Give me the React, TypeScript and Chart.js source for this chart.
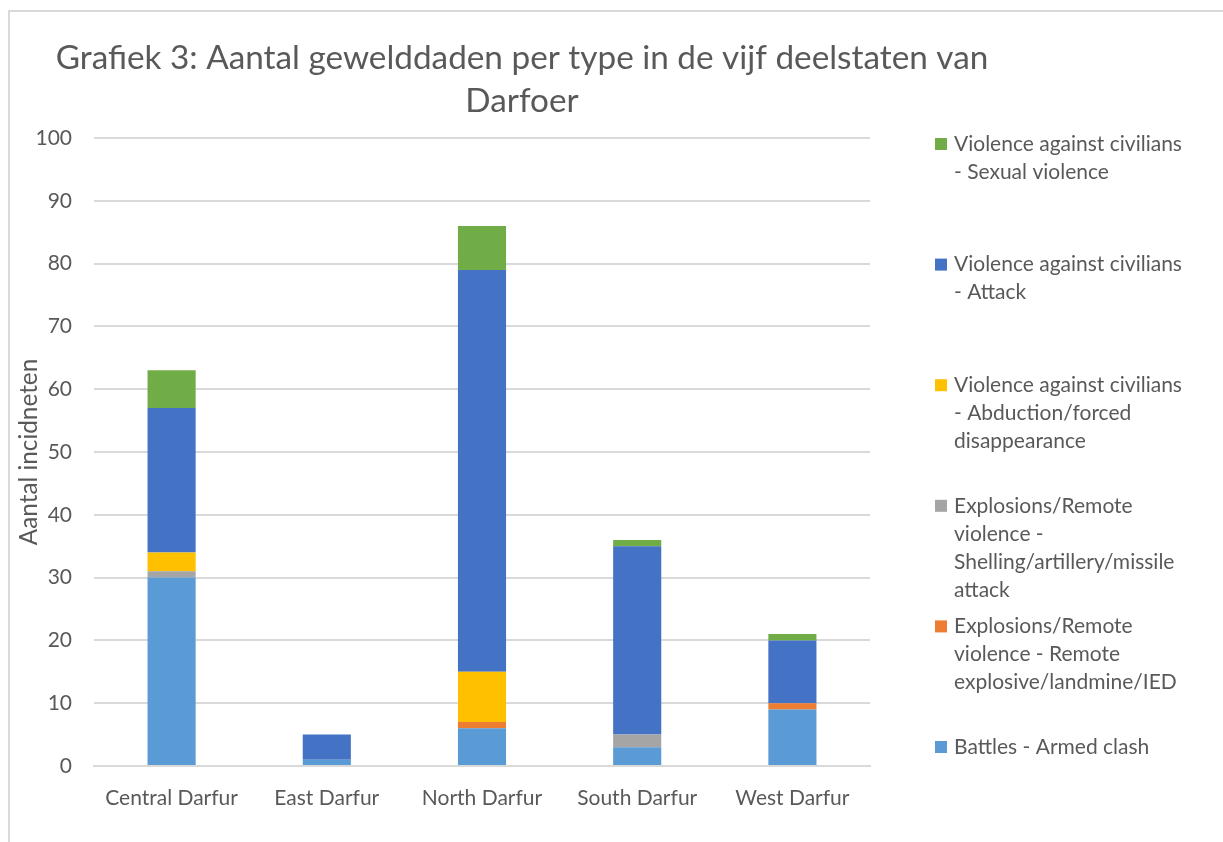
import React, { useEffect, useRef } from "react";
import { Chart, registerables } from "chart.js";

Chart.register(...registerables);

const categories = ["Central Darfur", "East Darfur", "North Darfur", "South Darfur", "West Darfur"];
const battlesArmedClash = [30, 1, 6, 3, 9];
const remoteExplosive = [0, 0, 1, 0, 1];
const shellingArtillery = [1, 0, 0, 2, 0];
const abduction = [3, 0, 8, 0, 0];
const attack = [23, 4, 64, 30, 10];
const sexualViolence = [6, 0, 7, 1, 1];
const yTicks = [0, 10, 20, 30, 40, 50, 60, 70, 80, 90, 100];

const titleLines = ["Grafiek 3: Aantal gewelddaden per type in de vijf deelstaten van", "Darfoer"];
const yAxisTitle = "Aantal incidneten";

const labelBattles = ["Battles - Armed clash"];
const labelRemote = ["Explosions/Remote", "violence - Remote", "explosive/landmine/IED"];
const labelShelling = ["Explosions/Remote", "violence -", "Shelling/artillery/missile", "attack"];
const labelAbduction = ["Violence against civilians", "- Abduction/forced", "disappearance"];
const labelAttack = ["Violence against civilians", "- Attack"];
const labelSexual = ["Violence against civilians", "- Sexual violence"];

const FONT = "Lato, 'Open Sans', sans-serif";
const TEXT = "#595959";

const titlePlugin = {
  id: "customTitle",
  afterDraw(chart: any) {
    const ctx = chart.ctx;
    ctx.save();
    ctx.fillStyle = TEXT;
    ctx.font = `33.3px ${FONT}`;
    ctx.textAlign = "center";
    ctx.textBaseline = "middle";
    const cx = 512;
    titleLines.forEach((line, i) => ctx.fillText(line, cx, 46 + i * 43));
    ctx.restore();
  },
};

const legendPlugin = {
  id: "customLegend",
  afterDraw(chart: any) {
    const ctx = chart.ctx;
    const ds = chart.data.datasets.slice().reverse();
    ctx.save();
    ctx.font = `21px ${FONT}`;
    ctx.textBaseline = "middle";
    ctx.textAlign = "left";
    ds.forEach((d: any, i: number) => {
      const y0 = 132 + i * 120.6;
      ctx.fillStyle = d.backgroundColor;
      ctx.fillRect(925, y0 - 6, 12, 12);
      ctx.fillStyle = TEXT;
      (d.lines as string[]).forEach((line, j) => ctx.fillText(line, 944, y0 + j * 28));
    });
    ctx.restore();
  },
};

export default function App() {
  const ref = useRef<HTMLCanvasElement | null>(null);
  useEffect(() => {
    if (!ref.current) return;
    const mk = (lines: string[], data: number[], color: string) => ({
      label: lines.join(" "),
      lines,
      data,
      backgroundColor: color,
      borderWidth: 0,
      barPercentage: 0.31,
      categoryPercentage: 1,
    });
    const chart = new Chart(ref.current, {
      type: "bar",
      data: {
        labels: categories,
        datasets: [
          mk(labelBattles, battlesArmedClash, "#5B9BD5"),
          mk(labelRemote, remoteExplosive, "#ED7D31"),
          mk(labelShelling, shellingArtillery, "#A5A5A5"),
          mk(labelAbduction, abduction, "#FFC000"),
          mk(labelAttack, attack, "#4472C4"),
          mk(labelSexual, sexualViolence, "#70AD47"),
        ] as any,
      },
      options: {
        responsive: false,
        animation: false,
        devicePixelRatio: 1,
        layout: { padding: { top: 126, right: 353, bottom: 0, left: 0 } },
        plugins: {
          legend: { display: false },
          title: { display: false },
          tooltip: { enabled: false },
        },
        scales: {
          x: {
            stacked: true,
            afterFit: (s: any) => { s.height = 76; },
            grid: { display: false, drawTicks: false },
            border: { color: "#d9d9d9", width: 2 },
            ticks: { color: TEXT, font: { family: FONT, size: 21 }, padding: 20, maxRotation: 0 },
          },
          y: {
            stacked: true,
            min: 0,
            max: 100,
            afterFit: (s: any) => { s.width = 84; },
            afterBuildTicks: (s: any) => { s.ticks = yTicks.map((v) => ({ value: v })); },
            grid: { color: "#d9d9d9", lineWidth: 2, drawTicks: false },
            border: { display: false },
            ticks: { color: TEXT, font: { family: FONT, size: 21 }, padding: 22 },
            title: {
              display: true,
              text: yAxisTitle,
              color: TEXT,
              font: { family: FONT, size: 24.3 },
              padding: { top: 5, bottom: 0 },
            },
          },
        },
      },
      plugins: [titlePlugin, legendPlugin],
    });
    return () => chart.destroy();
  }, []);
  return (
    <div
      style={{
        position: "fixed",
        left: 8,
        top: 10,
        width: 1215,
        height: 832,
        borderTop: "2px solid #d9d9d9",
        borderLeft: "2px solid #d9d9d9",
        background: "#fff",
      }}
    >
      <canvas ref={ref} width={1213} height={830} style={{ display: "block" }} />
    </div>
  );
}
